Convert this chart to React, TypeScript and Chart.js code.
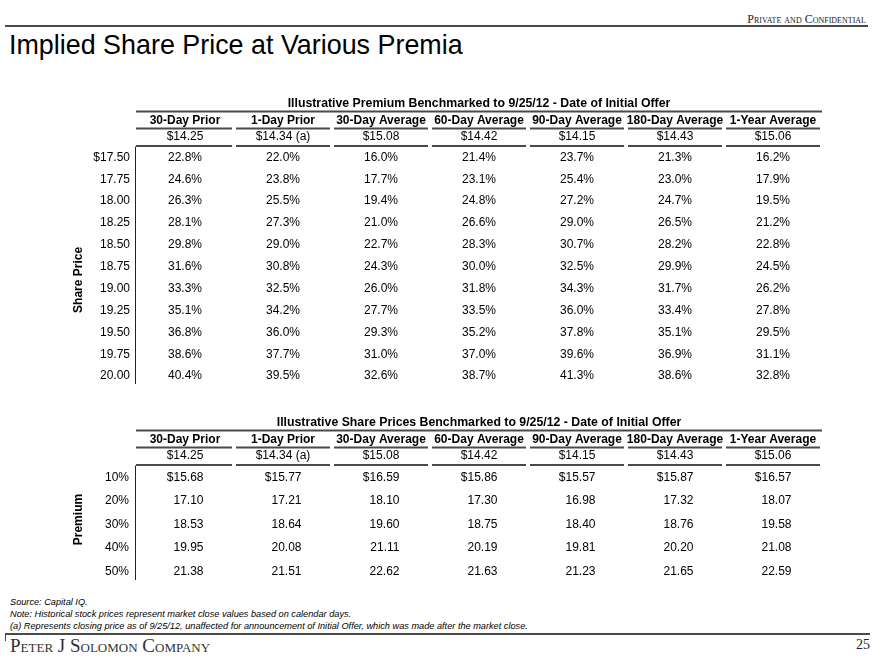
import React, { useEffect, useRef } from "react";
import { Chart, registerables } from "chart.js";
Chart.register(...registerables);

// ---------- data ----------
const columns = ["30-Day Prior", "1-Day Prior", "30-Day Average", "60-Day Average", "90-Day Average", "180-Day Average", "1-Year Average"];
const benchmarkPrices = ["$14.25", "$14.34 (a)", "$15.08", "$14.42", "$14.15", "$14.43", "$15.06"];

const sharePrices = ["$17.50", "17.75", "18.00", "18.25", "18.50", "18.75", "19.00", "19.25", "19.50", "19.75", "20.00"];
const prior30Premium = [22.8, 24.6, 26.3, 28.1, 29.8, 31.6, 33.3, 35.1, 36.8, 38.6, 40.4];
const prior1Premium = [22.0, 23.8, 25.5, 27.3, 29.0, 30.8, 32.5, 34.2, 36.0, 37.7, 39.5];
const avg30Premium = [16.0, 17.7, 19.4, 21.0, 22.7, 24.3, 26.0, 27.7, 29.3, 31.0, 32.6];
const avg60Premium = [21.4, 23.1, 24.8, 26.6, 28.3, 30.0, 31.8, 33.5, 35.2, 37.0, 38.7];
const avg90Premium = [23.7, 25.4, 27.2, 29.0, 30.7, 32.5, 34.3, 36.0, 37.8, 39.6, 41.3];
const avg180Premium = [21.3, 23.0, 24.7, 26.5, 28.2, 29.9, 31.7, 33.4, 35.1, 36.9, 38.6];
const year1Premium = [16.2, 17.9, 19.5, 21.2, 22.8, 24.5, 26.2, 27.8, 29.5, 31.1, 32.8];

const premiumLevels = ["10%", "20%", "30%", "40%", "50%"];
const prior30Price = [15.68, 17.10, 18.53, 19.95, 21.38];
const prior1Price = [15.77, 17.21, 18.64, 20.08, 21.51];
const avg30Price = [16.59, 18.10, 19.60, 21.11, 22.62];
const avg60Price = [15.86, 17.30, 18.75, 20.19, 21.63];
const avg90Price = [15.57, 16.98, 18.40, 19.81, 21.23];
const avg180Price = [15.87, 17.32, 18.76, 20.20, 21.65];
const year1Price = [16.57, 18.07, 19.58, 21.08, 22.59];

const premiumSeries = [prior30Premium, prior1Premium, avg30Premium, avg60Premium, avg90Premium, avg180Premium, year1Premium];
const priceSeries = [prior30Price, prior1Price, avg30Price, avg60Price, avg90Price, avg180Price, year1Price];

const title1 = "Illustrative Premium Benchmarked to 9/25/12 - Date of Initial Offer";
const title2 = "Illustrative Share Prices Benchmarked to 9/25/12 - Date of Initial Offer";

const SANS = "'Liberation Sans', Arial, Helvetica, sans-serif";
const SERIF = "'Liberation Serif', 'Times New Roman', Times, serif";
const RULE = "#4a4a4a";

type TableCfg = {
  title: string;
  axisTitle: string;
  rowLabels: string[];
  series: number[][];
  fmt: (v: number, row: number) => string;
  align: "center" | "right";
  axisTitleRow: number;
  rowLabelRight: number;
};

const tablePlugin = {
  id: "tableText",
  afterDatasetsDraw(chart: any, _args: any, opts: any) {
    const cfg: TableCfg = opts.cfg;
    if (!cfg) return;
    const ctx = chart.ctx;
    const xs = chart.scales.x;
    const ys = chart.scales.y;
    const area = chart.chartArea;
    const top = area.top;
    const left = xs.getPixelForValue(-0.5);
    const right = xs.getPixelForValue(columns.length - 0.5);
    ctx.save();
    ctx.fillStyle = "#000";
    ctx.textBaseline = "middle";

    // title
    ctx.font = `bold 12.3px ${SANS}`;
    ctx.textAlign = "center";
    ctx.fillText(cfg.title, (left + right) / 2, top - 43);

    // rule under title
    ctx.strokeStyle = RULE;
    ctx.lineWidth = 2;
    ctx.beginPath();
    ctx.moveTo(left, top - 35);
    ctx.lineTo(right, top - 35);
    ctx.stroke();

    // column headers, prices, underlines
    columns.forEach((c, i) => {
      const cx = xs.getPixelForValue(i);
      const l = xs.getPixelForValue(i - 0.5) + (i === 0 ? 0 : 2);
      const r = xs.getPixelForValue(i + 0.5) - 2;
      ctx.font = `bold 12px ${SANS}`;
      ctx.textAlign = "center";
      ctx.fillText(c, cx, top - 26);
      ctx.font = `12px ${SANS}`;
      ctx.fillText(benchmarkPrices[i], cx, top - 9.5);
      ctx.beginPath();
      ctx.moveTo(l, top - 18);
      ctx.lineTo(r, top - 18);
      ctx.moveTo(l, top - 0.5);
      ctx.lineTo(r, top - 0.5);
      ctx.stroke();
    });

    // vertical rule
    ctx.strokeStyle = "#222";
    ctx.lineWidth = 1;
    ctx.beginPath();
    ctx.moveTo(left - 0.5, top);
    ctx.lineTo(left - 0.5, area.bottom - 3);
    ctx.stroke();

    // row labels
    ctx.font = `12px ${SANS}`;
    ctx.textAlign = "right";
    cfg.rowLabels.forEach((lab, r) => {
      ctx.fillText(lab, cfg.rowLabelRight, ys.getPixelForValue(r));
    });

    // axis title (rotated)
    ctx.save();
    ctx.translate(left - 57, ys.getPixelForValue(cfg.axisTitleRow));
    ctx.rotate(-Math.PI / 2);
    ctx.font = `bold 12px ${SANS}`;
    ctx.textAlign = "center";
    ctx.fillText(cfg.axisTitle, 0, 0);
    ctx.restore();

    // cell values at each data element
    ctx.font = `12px ${SANS}`;
    chart.data.datasets.forEach((ds: any, di: number) => {
      const meta = chart.getDatasetMeta(di);
      meta.data.forEach((el: any, pi: number) => {
        const raw = ds.data[pi];
        const txt = cfg.fmt(raw.v, pi);
        if (cfg.align === "right") {
          ctx.textAlign = "right";
          ctx.fillText(txt, el.x + 18.5, el.y);
        } else {
          ctx.textAlign = "center";
          ctx.fillText(txt, el.x, el.y);
        }
      });
    });
    ctx.restore();
  },
};

function TableChart(props: { cfg: TableCfg; width: number; height: number; padding: any; style: any }) {
  const ref = useRef<HTMLCanvasElement | null>(null);
  useEffect(() => {
    if (!ref.current) return;
    const { cfg } = props;
    const chart = new Chart(ref.current, {
      type: "scatter",
      data: {
        datasets: cfg.series.map((vals, c) => ({
          label: columns[c],
          data: vals.map((v, r) => ({ x: c, y: r, v })),
          pointRadius: 0,
          pointHoverRadius: 0,
          showLine: false,
        })),
      },
      options: {
        animation: false,
        responsive: false,
        devicePixelRatio: 1,
        events: [],
        layout: { padding: props.padding },
        scales: {
          x: { type: "linear", display: false, min: -0.5, max: columns.length - 0.5 },
          y: { type: "linear", display: false, reverse: true, min: -0.5, max: cfg.rowLabels.length - 0.5 },
        },
        plugins: {
          legend: { display: false },
          tooltip: { enabled: false },
          tableText: { cfg },
        } as any,
      },
      plugins: [tablePlugin],
    });
    return () => chart.destroy();
  }, []);
  return <canvas ref={ref} width={props.width} height={props.height} style={props.style} />;
}

const table1: TableCfg = {
  title: title1,
  axisTitle: "Share Price",
  rowLabels: sharePrices,
  series: premiumSeries,
  fmt: (v) => v.toFixed(1) + "%",
  align: "center",
  axisTitleRow: 5.6,
  rowLabelRight: 130,
};

const table2: TableCfg = {
  title: title2,
  axisTitle: "Premium",
  rowLabels: premiumLevels,
  series: priceSeries,
  fmt: (v, r) => (r === 0 ? "$" : "") + v.toFixed(2),
  align: "right",
  axisTitleRow: 1.8,
  rowLabelRight: 129,
};

export default function App() {
  return (
    <div style={{ position: "absolute", left: 0, top: 0, width: 880, height: 660, background: "#fff", overflow: "hidden", fontFamily: SANS }}>
      <div style={{ position: "absolute", right: 14, top: 12, fontFamily: SERIF, fontVariant: "small-caps", fontSize: 12, color: "#222", lineHeight: "14px" }}>
        Private and Confidential
      </div>
      <div style={{ position: "absolute", left: 5, top: 25, width: 863, height: 2, background: RULE }} />
      <div style={{ position: "absolute", left: 9, top: 29, fontSize: 28, lineHeight: "31px", color: "#000", transform: "scaleX(0.96)", transformOrigin: "left top", whiteSpace: "nowrap" }}>
        Implied Share Price at Various Premia
      </div>

      <TableChart cfg={table1} width={880} height={300} padding={{ left: 136, right: 58, top: 56.5, bottom: 3 }} style={{ position: "absolute", left: 0, top: 90 }} />
      <TableChart cfg={table2} width={880} height={180} padding={{ left: 136, right: 58, top: 55.5, bottom: 7 }} style={{ position: "absolute", left: 0, top: 410 }} />

      <div style={{ position: "absolute", left: 10, top: 596, fontSize: 9.2, fontStyle: "italic", lineHeight: "12px", color: "#000", whiteSpace: "nowrap" }}>
        <div>Source: Capital IQ.</div>
        <div>Note: Historical stock prices represent market close values based on calendar days.</div>
        <div>(a) Represents closing price as of 9/25/12, unaffected for announcement of Initial Offer, which was made after the market close.</div>
      </div>
      <div style={{ position: "absolute", left: 5, top: 633, width: 865, height: 2, background: RULE }} />
      <div style={{ position: "absolute", left: 5, top: 633, width: 1, height: 8, background: RULE }} />
      <div style={{ position: "absolute", left: 10, top: 635, fontFamily: SERIF, fontVariant: "small-caps", fontSize: 19, lineHeight: "22px", color: "#333" }}>
        Peter J Solomon Company
      </div>
      <div style={{ position: "absolute", right: 10, top: 637, fontFamily: SERIF, fontSize: 14, lineHeight: "16px", color: "#222" }}>
        25
      </div>
    </div>
  );
}
